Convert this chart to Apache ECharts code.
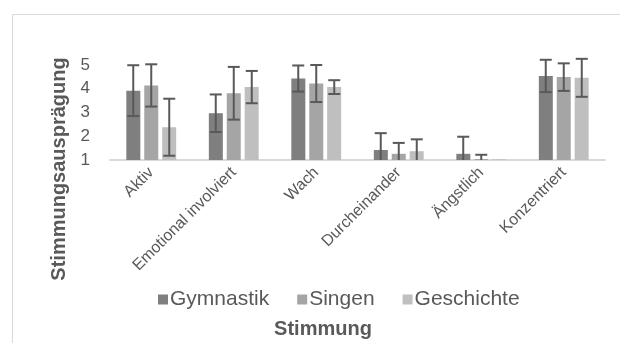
<!DOCTYPE html>
<html><head><meta charset="utf-8">
<script src="https://cdn.jsdelivr.net/npm/echarts@6/dist/echarts.min.js"></script>
<style>html,body{margin:0;padding:0;background:#fff}#c{width:620px;height:343px}</style>
</head><body><div id="c"></div>
<script>
const categories = ['Aktiv','Emotional involviert','Wach','Durcheinander','Ängstlich','Konzentriert'];
const seriesNames = ['Gymnastik','Singen','Geschichte'];
const gymnastik = [3.92, 2.97, 4.43, 1.42, 1.26, 4.54];
const singen = [4.14, 3.81, 4.22, 1.26, 1.04, 4.49];
const geschichte = [2.38, 4.07, 4.07, 1.37, 1.03, 4.46];
const gymnastikSD = [1.07, 0.79, 0.55, 0.71, 0.72, 0.68];
const singenSD = [0.89, 1.11, 0.78, 0.46, 0.18, 0.58];
const geschichteSD = [1.20, 0.68, 0.29, 0.50, 0.00, 0.80];
const yTicks = [1, 2, 3, 4, 5];
const yTitle = 'Stimmungsausprägung';
const xTitle = 'Stimmung';

const means = [gymnastik, singen, geschichte];
const sds = [gymnastikSD, singenSD, geschichteSD];
const colors = ['#7f7f7f', '#a5a5a5', '#bfbfbf'];
const txt = '#595959';
const font = '"Liberation Sans", Arial, sans-serif';

const chart = echarts.init(document.getElementById('c'));
const barSeries = seriesNames.map((n, i) => ({
  name: n, type: 'bar', data: means[i], barWidth: 14, barGap: '28%',
  itemStyle: { color: colors[i] }
}));
const errSeries = seriesNames.map((n, i) => ({
  type: 'custom', name: n + '_err', clip: false, z: 5,
  data: categories.map((c, j) => [j, means[i][j] - sds[i][j], means[i][j] + sds[i][j]]),
  renderItem: function (params, api) {
    const j = api.value(0);
    if (sds[i][j] <= 0) return null;
    const lo = Math.max(api.value(1), yTicks[0]);
    const hi = api.value(2);
    const off = (i - 1) * 18;
    const pHi = api.coord([j, hi]);
    const pLo = api.coord([j, lo]);
    const x = pHi[0] + off;
    const cap = 6;
    const st = { stroke: '#595959', lineWidth: 2 };
    const children = [
      { type: 'line', shape: { x1: x, y1: pHi[1], x2: x, y2: pLo[1] }, style: st },
      { type: 'line', shape: { x1: x - cap, y1: pHi[1], x2: x + cap, y2: pHi[1] }, style: st }
    ];
    if (api.value(1) > yTicks[0]) {
      children.push({ type: 'line', shape: { x1: x - cap, y1: pLo[1], x2: x + cap, y2: pLo[1] }, style: st });
    }
    return { type: 'group', children: children };
  }
}));

chart.setOption({
  animation: false,
  textStyle: { fontFamily: font },
  graphic: [{
    type: 'rect', shape: { x: 12.5, y: 14.5, width: 640, height: 360 },
    style: { fill: 'none', stroke: '#d9d9d9', lineWidth: 1 }, silent: true
  }, {
    type: 'text', x: 59, y: 169, rotation: Math.PI / 2,
    style: { text: yTitle, fill: txt, font: 'bold 20px ' + font, textAlign: 'center', textVerticalAlign: 'middle' }
  }, {
    type: 'text', x: 323, y: 329,
    style: { text: xTitle, fill: txt, font: 'bold 20px ' + font, textAlign: 'center', textVerticalAlign: 'middle' }
  }],
  grid: { left: 110, right: 15, top: 65, bottom: 183 },
  legend: {
    data: seriesNames, top: 284, left: 153, itemWidth: 10, itemHeight: 10, itemGap: 28,
    icon: 'rect',
    textStyle: { color: txt, fontSize: 21, fontFamily: font, padding: [0, 0, 0, -3] }
  },
  xAxis: {
    type: 'category', data: categories,
    axisLine: { lineStyle: { color: '#d9d9d9', width: 2 } },
    axisTick: { show: false },
    axisLabel: { rotate: 45, color: txt, fontSize: 16, margin: 10, interval: 0, fontFamily: font }
  },
  yAxis: {
    type: 'value', min: yTicks[0], max: yTicks[yTicks.length - 1], interval: 1,
    splitLine: { show: false }, axisLine: { show: false }, axisTick: { show: false },
    axisLabel: { color: txt, fontSize: 17, margin: 20, fontFamily: font }
  },
  series: barSeries.concat(errSeries)
});
</script></body></html>
